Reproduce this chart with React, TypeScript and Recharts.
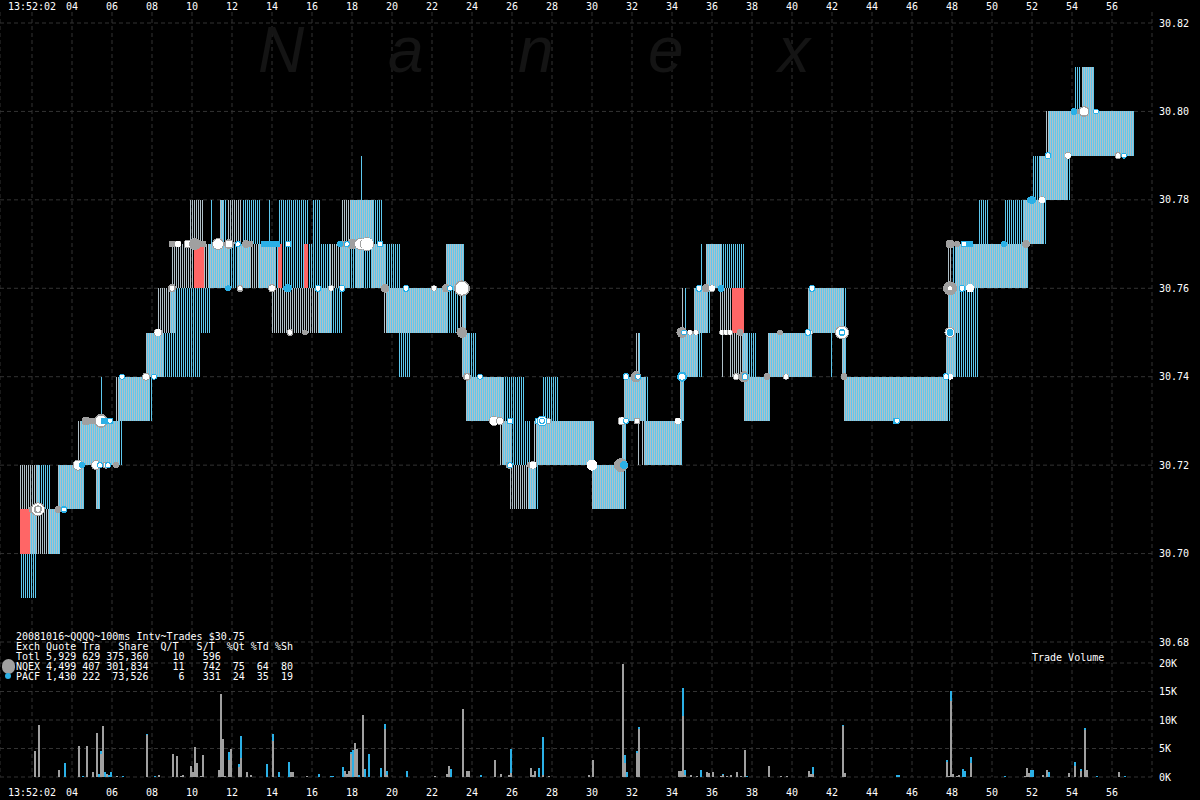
import { Bar, CartesianGrid, ComposedChart, Scatter, XAxis, YAxis } from 'recharts';

const W = 1200;
const H = 800;
const GREY = '#a0a0a0';
const BLUE = '#2bb0e6';
const STRIPE_GREY = '#b0c0c8';
const STRIPE_BLUE = '#5ec8ee';
const FONT = '"DejaVu Sans Mono", monospace';

const START_SEC = 0.4;
const END_SEC = 58;
const TICK_COUNT = 576; // one per 100ms

const secondTicks = [2, 4, 6, 8, 10, 12, 14, 16, 18, 20, 22, 24, 26, 28, 30, 32, 34, 36, 38, 40, 42, 44, 46, 48, 50, 52, 54, 56];
const priceTicks = [30.68, 30.7, 30.72, 30.74, 30.76, 30.78, 30.8, 30.82];
const volumeTicks = [0, 5000, 10000, 15000, 20000];
const watermarkLetters = ['N', 'a', 'n', 'e', 'x'];

const statLines = [
  '20081016~QQQQ~100ms Intv~Trades $30.75',
  'Exch Quote Tra   Share  Q/T   S/T  %Qt %Td %Sh',
  'Totl 5,929 629 375,360    10   596',
  'NQEX 4,499 407 301,834    11   742  75  64  80',
  'PACF 1,430 222  73,526     6   331  24  35  19',
];

// quote spreads held by each exchange: [from sec, to sec, bid, ask]
const nqexQuotes = [
  [1.4, 2.4, 30.71, 30.72], [1.9, 3.4, 30.7, 30.71], [3.3, 4.6, 30.71, 30.72], [5.2, 5.4, 30.71, 30.72],
  [4.3, 6.4, 30.72, 30.73], [6.2, 7.9, 30.73, 30.74], [7.7, 8.6, 30.74, 30.75], [8.3, 9.2, 30.75, 30.76],
  [9.0, 10.1, 30.76, 30.77], [9.9, 10.6, 30.77, 30.78], [10.6, 11.9, 30.76, 30.77], [11.4, 11.6, 30.77, 30.78],
  [11.8, 12.5, 30.77, 30.78], [12.3, 14.2, 30.76, 30.77], [14.0, 17.0, 30.75, 30.76], [16.9, 17.9, 30.76, 30.77],
  [17.5, 19.1, 30.77, 30.78], [18.2, 18.6, 30.76, 30.77], [19.0, 19.7, 30.76, 30.77], [19.6, 22.8, 30.75, 30.76],
  [22.7, 23.6, 30.76, 30.77], [23.4, 23.7, 30.75, 30.76], [23.5, 23.9, 30.74, 30.75], [23.7, 25.6, 30.73, 30.74],
  [25.4, 26.0, 30.72, 30.73], [25.9, 27.2, 30.71, 30.72], [27.1, 30.1, 30.72, 30.73], [30.0, 31.6, 30.71, 30.72],
  [31.5, 31.7, 30.72, 30.73], [31.6, 32.7, 30.73, 30.74], [32.2, 32.4, 30.74, 30.75], [32.3, 32.4, 30.72, 30.73],
  [32.5, 34.5, 30.72, 30.73], [34.4, 34.6, 30.73, 30.74], [34.4, 35.3, 30.74, 30.75], [34.5, 34.6, 30.75, 30.76],
  [35.1, 35.8, 30.75, 30.76], [35.7, 36.5, 30.76, 30.77], [36.4, 37.0, 30.75, 30.76], [36.5, 36.6, 30.74, 30.75],
  [36.9, 37.8, 30.74, 30.75], [37.6, 38.9, 30.73, 30.74], [38.8, 41.0, 30.74, 30.75], [40.8, 42.6, 30.75, 30.76],
  [42.5, 42.7, 30.74, 30.75], [42.6, 47.8, 30.73, 30.74], [47.7, 48.2, 30.74, 30.75], [47.8, 48.4, 30.75, 30.76],
  [47.8, 48.0, 30.76, 30.77], [48.2, 51.8, 30.76, 30.77], [51.6, 52.6, 30.77, 30.78], [52.4, 53.8, 30.78, 30.79],
  [52.7, 57.1, 30.79, 30.8], [54.5, 55.1, 30.8, 30.81],
];

const pacfQuotes = [
  [1.4, 2.2, 30.69, 30.7], [1.9, 2.2, 30.7, 30.71], [2.8, 3.4, 30.7, 30.71], [2.2, 2.9, 30.71, 30.72],
  [3.3, 4.6, 30.71, 30.72], [5.2, 5.4, 30.71, 30.72], [4.4, 6.5, 30.72, 30.73], [5.4, 5.5, 30.73, 30.74],
  [6.3, 8.0, 30.73, 30.74], [7.7, 10.4, 30.74, 30.75], [8.9, 10.9, 30.75, 30.76], [10.8, 12.9, 30.76, 30.77],
  [10.9, 11.0, 30.77, 30.78], [11.4, 11.6, 30.77, 30.78], [11.6, 11.7, 30.77, 30.78], [12.5, 13.4, 30.77, 30.78],
  [13.3, 14.3, 30.76, 30.77], [13.8, 13.9, 30.77, 30.78], [14.3, 15.8, 30.77, 30.78], [14.5, 15.6, 30.76, 30.77],
  [15.8, 16.9, 30.76, 30.77], [16.0, 16.4, 30.77, 30.78], [16.3, 17.5, 30.75, 30.76], [17.4, 20.4, 30.76, 30.77],
  [17.9, 19.5, 30.77, 30.78], [18.4, 18.5, 30.78, 30.79], [19.7, 23.3, 30.75, 30.76], [20.3, 20.9, 30.74, 30.75],
  [22.7, 23.6, 30.76, 30.77], [23.5, 23.7, 30.75, 30.76], [23.5, 24.2, 30.74, 30.75], [23.7, 26.6, 30.73, 30.74],
  [25.5, 26.9, 30.72, 30.73], [26.8, 27.3, 30.71, 30.72], [27.2, 30.1, 30.72, 30.73], [27.5, 28.3, 30.73, 30.74],
  [30.0, 31.7, 30.71, 30.72], [31.5, 31.7, 30.72, 30.73], [31.6, 32.8, 30.73, 30.74], [32.3, 32.4, 30.74, 30.75],
  [32.6, 34.5, 30.72, 30.73], [34.4, 34.6, 30.73, 30.74], [34.4, 35.5, 30.74, 30.75], [34.6, 34.7, 30.75, 30.76],
  [35.1, 35.9, 30.75, 30.76], [35.4, 35.5, 30.76, 30.77], [35.7, 37.6, 30.76, 30.77], [37.5, 38.2, 30.74, 30.75],
  [37.6, 38.9, 30.73, 30.74], [38.8, 41.0, 30.74, 30.75], [40.8, 42.7, 30.75, 30.76], [41.9, 42.0, 30.74, 30.75],
  [42.5, 42.7, 30.74, 30.75], [42.6, 47.9, 30.73, 30.74], [47.7, 49.3, 30.74, 30.75], [47.8, 49.3, 30.75, 30.76],
  [48.0, 51.8, 30.76, 30.77], [49.3, 49.8, 30.77, 30.78], [50.6, 52.7, 30.77, 30.78], [52.0, 53.9, 30.78, 30.79],
  [52.8, 57.1, 30.79, 30.8], [54.1, 54.4, 30.8, 30.81], [54.5, 55.1, 30.8, 30.81],
];

// crossed market stretches
const crossedQuotes = [
  [1.4, 1.9, 30.7, 30.71], [10.1, 10.6, 30.76, 30.77], [14.3, 14.5, 30.76, 30.77],
  [15.6, 15.8, 30.76, 30.77], [37.0, 37.6, 30.75, 30.76],
];

// trades: [sec, price, shares, white centre shares]
const nqexTrades = [
  [2.05, 30.71, 1400, 0], [2.3, 30.71, 12600, 12600], [2.3, 30.71, 1400, 600], [3.3, 30.71, 600, 0],
  [4.3, 30.72, 5600, 5600], [5.2, 30.72, 3900, 3900], [5.7, 30.72, 600, 600], [6.2, 30.72, 150, 0],
  [4.7, 30.73, 2500, 0], [5.0, 30.73, 600, 0], [5.45, 30.73, 12600, 10000], [7.7, 30.74, 1400, 1400],
  [8.3, 30.75, 1400, 2500], [9.0, 30.76, 1400, 600], [12.4, 30.76, 600, 150], [14.0, 30.76, 1400, 1400],
  [16.95, 30.76, 150, 600], [19.65, 30.76, 2500, 0], [22.1, 30.76, 150, 600], [22.7, 30.76, 1400, 0],
  [23.5, 30.76, 18900, 15600], [9.0, 30.77, 600, 0], [9.3, 30.77, 600, 1400], [9.8, 30.77, 2500, 2500],
  [10.15, 30.77, 7600, 0], [10.55, 30.77, 600, 0], [11.3, 30.77, 7600, 7600], [11.85, 30.77, 3900, 2500],
  [12.7, 30.77, 1400, 0], [12.9, 30.77, 600, 0], [14.9, 30.75, 600, 600], [15.65, 30.75, 150, 0],
  [17.6, 30.77, 150, 0], [18.0, 30.77, 5600, 0], [18.4, 30.77, 7600, 7600], [18.75, 30.77, 12600, 15600],
  [23.5, 30.75, 5600, 0], [23.75, 30.74, 1400, 600], [25.1, 30.73, 3900, 5600], [25.4, 30.73, 1400, 1400],
  [27.8, 30.73, 150, 600], [25.85, 30.72, 600, 0], [26.9, 30.72, 150, 0], [27.05, 30.72, 1400, 2500],
  [30.0, 30.72, 5600, 10000], [31.5, 30.73, 2500, 2500], [32.25, 30.73, 600, 600], [34.3, 30.73, 600, 1400],
  [31.45, 30.72, 12600, 0], [32.2, 30.74, 5600, 0], [34.5, 30.75, 5600, 0], [34.9, 30.75, 150, 600],
  [35.2, 30.75, 150, 600], [36.5, 30.75, 150, 600], [36.7, 30.75, 150, 600], [36.9, 30.75, 150, 600],
  [37.4, 30.75, 600, 0], [37.2, 30.74, 600, 600], [37.6, 30.74, 5600, 0], [38.75, 30.74, 600, 0],
  [39.7, 30.74, 150, 600], [35.7, 30.76, 1400, 0], [36.0, 30.76, 600, 1400], [39.4, 30.75, 150, 0],
  [40.9, 30.75, 150, 600], [42.5, 30.75, 12600, 12600], [42.6, 30.74, 600, 0], [47.9, 30.74, 150, 1400],
  [47.9, 30.75, 5600, 5600], [47.9, 30.76, 12600, 150], [48.9, 30.76, 1400, 3900], [47.9, 30.77, 2500, 0],
  [48.25, 30.77, 150, 0], [51.7, 30.77, 1400, 0], [52.5, 30.78, 600, 1400], [53.8, 30.79, 600, 1400],
  [56.3, 30.79, 600, 600], [54.3, 30.8, 150, 0], [54.6, 30.8, 5600, 3900],
];

const pacfTrades = [
  [3.6, 30.71, 600, 150], [4.5, 30.72, 150, 0], [5.4, 30.72, 150, 150], [5.8, 30.72, 150, 150],
  [5.6, 30.73, 600, 0], [5.9, 30.73, 600, 150], [6.5, 30.74, 150, 150], [8.1, 30.74, 150, 150],
  [11.8, 30.76, 150, 0], [14.7, 30.76, 150, 0], [14.8, 30.76, 1400, 0], [16.3, 30.76, 600, 600],
  [17.5, 30.76, 600, 600], [20.7, 30.76, 600, 600], [22.9, 30.76, 150, 150], [12.3, 30.77, 150, 150],
  [13.6, 30.77, 600, 0], [13.8, 30.77, 600, 0], [14.0, 30.77, 600, 0], [14.25, 30.77, 600, 0],
  [14.8, 30.77, 600, 600], [17.4, 30.77, 150, 0], [17.75, 30.77, 150, 150], [19.4, 30.77, 600, 600],
  [24.4, 30.74, 150, 150], [25.9, 30.73, 600, 600], [27.3, 30.73, 600, 600], [27.5, 30.73, 5600, 5600],
  [27.5, 30.73, 150, 150], [25.9, 30.72, 150, 150], [31.7, 30.73, 150, 150], [31.6, 30.72, 1400, 0],
  [31.7, 30.74, 600, 600], [32.3, 30.74, 150, 150], [34.5, 30.74, 3900, 1400], [34.6, 30.75, 150, 150],
  [35.35, 30.76, 600, 600], [36.45, 30.76, 600, 0], [37.65, 30.74, 600, 600], [40.8, 30.75, 600, 600],
  [41.0, 30.76, 600, 600], [42.5, 30.75, 600, 150], [45.2, 30.73, 600, 0], [45.25, 30.73, 150, 150],
  [47.7, 30.74, 600, 600], [47.9, 30.75, 600, 0], [48.5, 30.76, 600, 600], [48.6, 30.77, 600, 600],
  [48.9, 30.77, 600, 0], [50.6, 30.77, 150, 0], [51.9, 30.78, 150, 150], [52.0, 30.78, 1400, 0],
  [52.8, 30.79, 600, 600], [56.6, 30.79, 150, 150], [54.1, 30.8, 600, 0], [55.2, 30.8, 150, 150],
];

// share volume per interval: [sec, NQEX shares, PACF shares]
const volumes = [
  [2.1, 4500, 0], [2.3, 9100, 0], [3.3, 1300, 0], [3.6, 0, 2400], [4.3, 5500, 0], [4.5, 0, 250], [4.7, 5500, 0],
  [5.0, 800, 0], [5.2, 7800, 0], [5.3, 0, 600], [5.4, 4000, 600], [5.5, 8900, 0], [5.6, 0, 800], [5.7, 600, 0],
  [5.8, 0, 400], [5.9, 0, 950], [6.2, 250, 0], [6.5, 0, 100], [7.7, 7300, 200], [8.1, 0, 250], [8.3, 400, 0],
  [9.0, 4000, 0], [9.2, 3600, 0], [9.4, 100, 0], [9.5, 400, 0], [9.9, 2000, 0], [10.0, 950, 0], [10.1, 5200, 0],
  [10.2, 2400, 0], [10.4, 100, 0], [10.5, 3800, 0], [11.3, 1300, 0], [11.4, 14600, 0], [11.5, 6600, 0], [11.6, 250, 0],
  [11.8, 2900, 1400], [11.9, 5000, 0], [12.3, 1800, 550], [12.4, 3250, 3900], [12.7, 950, 0], [12.9, 400, 0],
  [13.7, 0, 2200], [14.0, 6250, 1250], [14.3, 0, 950], [14.8, 0, 2700], [14.9, 950, 0], [15.0, 800, 0],
  [15.7, 100, 0], [16.3, 0, 450], [16.9, 0, 100], [17.0, 0, 100], [17.5, 0, 1700], [17.6, 1000, 0], [17.7, 450, 0],
  [17.8, 1000, 0], [17.9, 4000, 350], [18.0, 0, 4700], [18.1, 6000, 0], [18.2, 4900, 0], [18.3, 0, 300],
  [18.5, 10900, 0], [18.6, 0, 1350], [18.8, 0, 4000], [19.4, 0, 1500], [19.6, 8450, 880], [19.7, 300, 700],
  [20.7, 0, 1000], [22.1, 100, 0], [22.7, 450, 0], [22.8, 1900, 0], [22.9, 0, 1350], [23.5, 12000, 0],
  [23.7, 1000, 0], [23.8, 1000, 0], [24.4, 0, 300], [25.1, 2950, 0], [25.4, 450, 0], [25.8, 300, 0], [25.9, 750, 4150],
  [26.9, 1500, 0], [27.0, 300, 0], [27.1, 1000, 0], [27.3, 0, 1500], [27.5, 300, 6700], [27.8, 100, 0], [29.8, 300, 0],
  [30.0, 2950, 0], [31.5, 19800, 0], [31.6, 2500, 1300], [31.7, 0, 800], [32.2, 4200, 350], [32.3, 8450, 350],
  [34.3, 1000, 0], [34.4, 1000, 0], [34.5, 10700, 5000], [34.6, 300, 900], [34.9, 300, 0], [35.2, 100, 0],
  [35.4, 0, 1250], [35.7, 900, 0], [35.8, 700, 0], [36.0, 900, 0], [36.4, 200, 0], [36.5, 350, 200], [36.7, 200, 0],
  [36.9, 350, 0], [37.2, 900, 0], [37.4, 200, 0], [37.6, 4800, 0], [37.7, 0, 100], [38.8, 1950, 0], [39.4, 100, 0],
  [39.7, 100, 0], [40.8, 1050, 0], [40.9, 500, 0], [41.0, 500, 1250], [42.5, 9000, 150], [42.6, 700, 0],
  [45.2, 0, 350], [45.3, 0, 350], [47.7, 2650, 350], [47.8, 100, 0], [47.9, 13300, 1750], [48.0, 500, 0],
  [48.2, 150, 0], [48.3, 350, 0], [48.5, 0, 1400], [48.6, 0, 1050], [48.9, 2500, 1050], [50.6, 0, 150],
  [51.6, 200, 0], [51.7, 1600, 0], [51.8, 700, 0], [51.9, 0, 1250], [52.0, 0, 1250], [52.5, 350, 0], [52.7, 1250, 0],
  [52.8, 0, 900], [53.8, 700, 0], [54.1, 1950, 700], [54.4, 1050, 350], [54.6, 8300, 350], [54.7, 1250, 0],
  [55.2, 0, 200], [56.3, 900, 0], [56.6, 0, 200],
];

const tickOf = (sec: number) => Math.round((sec - START_SEC) * 10);

// one row per 100ms interval, overlapping runs widen the spread held in that interval
function spreadByTick(runs: number[][]) {
  const out: (number[] | undefined)[] = new Array(TICK_COUNT).fill(undefined);
  for (const [from, to, bid, ask] of runs) {
    for (let i = tickOf(from); i < tickOf(to); i++) {
      const cur = out[i];
      out[i] = cur ? [Math.min(cur[0], bid), Math.max(cur[1], ask)] : [bid, ask];
    }
  }
  return out;
}

const nqexByTick = spreadByTick(nqexQuotes);
const pacfByTick = spreadByTick(pacfQuotes);
const crossedByTick = spreadByTick(crossedQuotes);
const volumeByTick = new Map(volumes.map(([sec, n, p]) => [tickOf(sec), [n, p]]));

const quoteRows = Array.from({ length: TICK_COUNT }, (_, i) => ({
  tick: i,
  nqex: nqexByTick[i],
  pacf: pacfByTick[i],
  crossed: crossedByTick[i],
  nqexVol: volumeByTick.get(i)?.[0] ?? 0,
  pacfVol: volumeByTick.get(i)?.[1] ?? 0,
}));

const toTradeRows = (trades: number[][]) =>
  trades.map(([sec, price, shares, white]) => ({ sec, price, shares, white }));

const timeRows = secondTicks.map((sec) => ({ sec, y: 0 }));

const outerRadius = (shares: number) => 2.5 + Math.sqrt(shares) / 25;
const whiteRadius = (shares: number) => 1.5 + Math.sqrt(shares) / 25;

function TradeDot(props: any) {
  const { cx, cy, payload, fill } = props;
  return (
    <g shapeRendering="crispEdges">
      <circle cx={cx} cy={cy} r={outerRadius(payload.shares)} fill={fill} />
      {payload.white > 0 && <circle cx={cx} cy={cy} r={whiteRadius(payload.white)} fill="#fff" />}
    </g>
  );
}

const layer: React.CSSProperties = { position: 'absolute', left: 0, top: 0 };
const PRICE_MARGIN = { top: 23, right: 0, bottom: 158, left: 0 };
const VOLUME_MARGIN = { top: 663, right: 0, bottom: 23, left: 0 };
const axisText = { fill: '#fff', fontSize: 10, fontFamily: FONT };

const secondLabel = (v: number) => (v === 2 ? '13:52:02' : String(v).padStart(2, '0'));
const volumeLabel = (v: number) => `${v / 1000}K`;

export default function App() {
  return (
    <div style={{ position: 'fixed', left: 0, top: 0, width: W, height: H, background: '#000', overflow: 'hidden' }}>
      {/* vertical grid and time labels */}
      <ComposedChart style={layer} width={W} height={H} margin={{ top: 0, right: 48, bottom: 0, left: 0 }}>
        <CartesianGrid vertical horizontal={false} stroke="#333" strokeDasharray="4 3" />
        <XAxis xAxisId={0} dataKey="sec" type="number" domain={[START_SEC, END_SEC]} ticks={secondTicks} orientation="bottom" height={23}
          tick={axisText} tickFormatter={secondLabel} tickLine={false} axisLine={false} tickSize={0} tickMargin={12} interval={0} />
        <XAxis xAxisId="top" dataKey="sec" type="number" domain={[START_SEC, END_SEC]} ticks={secondTicks} orientation="top" height={12}
          tick={axisText} tickFormatter={secondLabel} tickLine={false} axisLine={false} tickSize={0} tickMargin={2} interval={0} />
        <YAxis dataKey="y" hide type="number" domain={[0, 1]} />
        <Scatter data={timeRows} xAxisId={0} fill="none" shape={() => <g />} isAnimationActive={false} />
        <Scatter data={timeRows} xAxisId="top" fill="none" shape={() => <g />} isAnimationActive={false} />
      </ComposedChart>

      <div style={{ ...layer, left: 258, top: 26, height: 48, display: 'flex', fontFamily: '"Liberation Sans", sans-serif', fontStyle: 'italic', fontSize: 64, lineHeight: '48px', color: '#141414' }}>
        {watermarkLetters.map((c, i) => (
          <span key={i} style={{ width: 130 }}>{c}</span>
        ))}
      </div>

      {/* quote spreads, 1px per exchange per 100ms */}
      <ComposedChart style={layer} width={W} height={H} data={quoteRows} margin={PRICE_MARGIN} barSize={1} barGap={0} barCategoryGap={0}>
        <CartesianGrid vertical={false} stroke="#333" strokeDasharray="4 3" />
        <XAxis dataKey="tick" type="category" hide />
        <YAxis orientation="right" width={48} type="number" domain={[30.68, 30.82]} ticks={priceTicks} interval={0}
          tick={{ ...axisText, textAnchor: 'start' }} tickFormatter={(v: number) => v.toFixed(2)} tickLine={false} axisLine={false} tickSize={0} tickMargin={7} />
        <Bar dataKey="nqex" fill={STRIPE_GREY} isAnimationActive={false} shapeRendering="crispEdges" />
        <Bar dataKey="pacf" fill={STRIPE_BLUE} isAnimationActive={false} shapeRendering="crispEdges" />
      </ComposedChart>

      <ComposedChart style={layer} width={W} height={H} data={quoteRows} margin={{ ...PRICE_MARGIN, right: 48 }} barSize={2} barCategoryGap={0}>
        <XAxis dataKey="tick" type="category" hide />
        <YAxis hide type="number" domain={[30.68, 30.82]} />
        <Bar dataKey="crossed" fill="#ff6666" isAnimationActive={false} shapeRendering="crispEdges" />
      </ComposedChart>

      {/* trades */}
      <ComposedChart style={layer} width={W} height={H} margin={{ ...PRICE_MARGIN, right: 48 }}>
        <XAxis dataKey="sec" type="number" domain={[START_SEC, END_SEC]} hide />
        <YAxis dataKey="price" hide type="number" domain={[30.68, 30.82]} />
        <Scatter data={toTradeRows(nqexTrades)} fill={GREY} shape={TradeDot} isAnimationActive={false} />
        <Scatter data={toTradeRows(pacfTrades)} fill={BLUE} shape={TradeDot} isAnimationActive={false} />
      </ComposedChart>

      {/* trade volume */}
      <ComposedChart style={layer} width={W} height={H} data={quoteRows} margin={VOLUME_MARGIN} barSize={2} barCategoryGap={0}>
        <CartesianGrid vertical={false} stroke="#333" strokeDasharray="4 3" />
        <XAxis dataKey="tick" type="category" hide />
        <YAxis orientation="right" width={48} type="number" domain={[0, 20000]} ticks={volumeTicks} interval={0}
          tick={{ ...axisText, textAnchor: 'start' }} tickFormatter={volumeLabel} tickLine={false} axisLine={false} tickSize={0} tickMargin={7} />
        <Bar dataKey="nqexVol" stackId="vol" fill={GREY} isAnimationActive={false} shapeRendering="crispEdges" />
        <Bar dataKey="pacfVol" stackId="vol" fill={BLUE} isAnimationActive={false} shapeRendering="crispEdges" />
      </ComposedChart>

      <div style={{ ...layer, left: 16, top: 632, fontFamily: FONT, fontSize: 10, lineHeight: '10px', color: '#fff', whiteSpace: 'pre' }}>
        {statLines.map((line) => (
          <div key={line}>{line}</div>
        ))}
      </div>
      <div style={{ ...layer, left: 2, top: 659, width: 13, height: 15, borderRadius: 7, background: GREY }} />
      <div style={{ ...layer, left: 5, top: 673, width: 6, height: 6, borderRadius: 3, background: BLUE }} />
      <div style={{ ...layer, left: 1032, top: 652, fontFamily: FONT, fontSize: 10, lineHeight: '12px', color: '#fff' }}>Trade Volume</div>
    </div>
  );
}
